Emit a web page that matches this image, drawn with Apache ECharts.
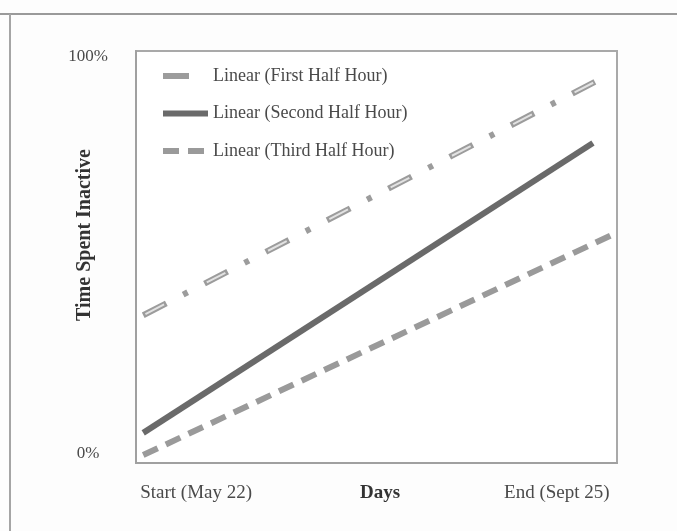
<!DOCTYPE html>
<html>
<head>
<meta charset="utf-8">
<script src="https://cdn.jsdelivr.net/npm/echarts@6/dist/echarts.min.js"></script>
<style>
html,body{margin:0;padding:0;background:#fdfdfd;}
#chart{width:677px;height:531px;}
</style>
</head>
<body>
<div id="chart"></div>
<script>
// ---- data ----
const seriesNames = ['Linear (First Half Hour)', 'Linear (Second Half Hour)', 'Linear (Third Half Hour)'];
const firstHalfHour = [[1.5, 34.8], [95.4, 93.7]];
const secondHalfHour = [[1.5, 5.1], [95.0, 78.3]];
const thirdHalfHour = [[1.5, -0.5], [99.0, 55.1]];
const xTickValues = [12.5, 87.5];
const xTickLabels = ['Start (May 22)', 'End (Sept 25)'];
const yTickValues = [0, 100];
const yTickLabels = ['0%', '100%'];
const xTitle = 'Days';
const yTitle = 'Time Spent Inactive';

const serif = '"Liberation Serif", "DejaVu Serif", serif';
const textColor = '#4a4a4a';

const chart = echarts.init(document.getElementById('chart'));
chart.setOption({
  backgroundColor: '#fdfdfd',
  animation: false,
  grid: {
    left: 136, right: 60, top: 51, bottom: 68,
    show: true, borderColor: '#a9a9a9', borderWidth: 2, backgroundColor: '#ffffff'
  },
  legend: {
    data: seriesNames,
    orient: 'vertical',
    left: 160, top: 67, padding: 0,
    itemWidth: 45, itemHeight: 20, itemGap: 19.5,
    itemStyle: { opacity: 0 },
    lineStyle: { width: 6 },
    textStyle: { fontFamily: serif, fontSize: 18, color: textColor }
  },
  xAxis: {
    type: 'value', min: 0, max: 100,
    name: xTitle, nameLocation: 'middle', nameGap: 30, nameMoveOverlap: false,
    nameTextStyle: { fontFamily: serif, fontSize: 19, fontWeight: 'bold', color: '#333', verticalAlign: 'middle', padding: [0, 0, 0, 7] },
    axisLine: { show: true, onZero: false, lineStyle: { color: '#a0a0a0', width: 2 } },
    axisTick: { show: false },
    splitLine: { show: false },
    axisLabel: {
      customValues: xTickValues,
      formatter: v => xTickLabels[xTickValues.indexOf(v)],
      margin: 21, fontFamily: serif, fontSize: 19, color: textColor
    }
  },
  yAxis: {
    type: 'value', min: -2.5, max: 101.5,
    axisLine: { show: true, onZero: false, lineStyle: { color: '#a0a0a0', width: 2 } },
    axisTick: { show: false },
    splitLine: { show: false },
    axisLabel: {
      customValues: yTickValues,
      formatter: v => yTickLabels[yTickValues.indexOf(v)],
      align: 'center', margin: 48, fontFamily: serif, fontSize: 17, color: textColor
    }
  },
  graphic: [
    { type: 'line', shape: { x1: 0, y1: 14, x2: 677, y2: 14 }, style: { stroke: '#9a9a9a', lineWidth: 2 } },
    { type: 'line', shape: { x1: 10, y1: 14, x2: 10, y2: 531 }, style: { stroke: '#a5a5a5', lineWidth: 2 } },
    {
      type: 'text', x: 85, y: 235, rotation: Math.PI / 2,
      style: { text: yTitle, font: 'bold 20px ' + serif, fill: '#333', align: 'center', verticalAlign: 'middle' }
    }
  ],
  series: [
    {
      name: seriesNames[0], type: 'line', data: firstHalfHour, symbol: 'none',
      lineStyle: { color: '#9c9c9c', width: 6, type: [26, 19, 5, 19], cap: 'butt' },
      itemStyle: { color: '#9c9c9c' }, z: 3
    },
    {
      name: '_firstInner', type: 'line', data: firstHalfHour, symbol: 'none', silent: true,
      lineStyle: { color: '#e2e2e2', width: 2, type: [21, 48], dashOffset: -2.5, cap: 'butt' },
      z: 4
    },
    {
      name: seriesNames[1], type: 'line', data: secondHalfHour, symbol: 'none',
      lineStyle: { color: '#6a6a6a', width: 6, type: 'solid' },
      itemStyle: { color: '#6a6a6a' }, z: 3
    },
    {
      name: seriesNames[2], type: 'line', data: thirdHalfHour, symbol: 'none',
      lineStyle: { color: '#9a9a9a', width: 6, type: [16, 9], cap: 'butt' },
      itemStyle: { color: '#9a9a9a' }, z: 3
    }
  ]
});
</script>
</body>
</html>
